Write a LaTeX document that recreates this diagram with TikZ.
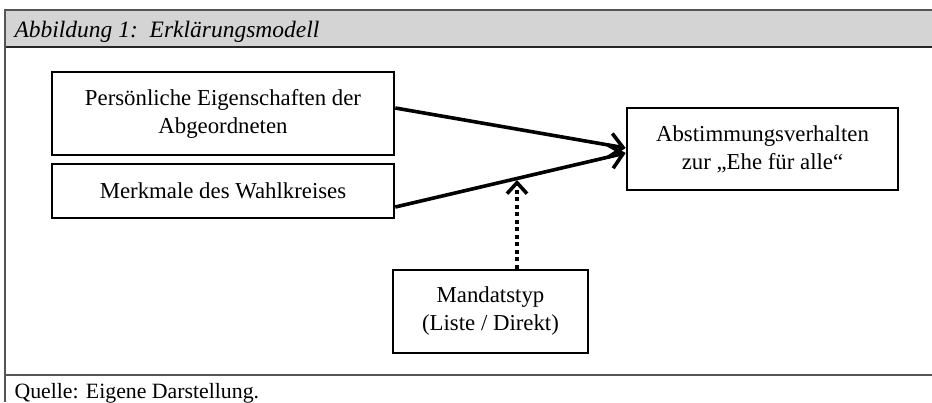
\documentclass[tikz,border=0pt]{standalone}
\usepackage{fontspec}
\setmainfont{Liberation Serif}
\usetikzlibrary{arrows.meta}
\definecolor{hdrfill}{RGB}{212,212,212}
\definecolor{hdrline}{RGB}{85,85,85}
\tikzset{
  box/.style={draw=black, line width=2.6pt, inner sep=0pt, align=center, font=\fontsize{22.8}{28}\selectfont},
  arr/.style={line width=3.6pt, -{Straight Barb[length=13pt,width=24pt,line width=3.6pt]}},
  darr/.style={line width=3.6pt, dash pattern=on 4pt off 3.5pt, -{Straight Barb[length=11pt,width=20pt,line width=3.6pt]}}
}
\begin{document}
\begin{tikzpicture}[x=1pt,y=-1pt]
\useasboundingbox (0,0) rectangle (932,402);
% header band
\fill[hdrfill] (5,9) rectangle (932,47);
\draw[hdrline, line width=2pt] (5,9.5) -- (932,9.5);
\draw[black!85, line width=2pt] (5,47) -- (932,47);
\draw[hdrline, line width=1.5pt] (5,9) -- (5,402);
\draw[hdrline, line width=2.2pt] (5,375) -- (932,375);
\node[anchor=base west, font=\fontsize{23.5}{26}\selectfont\itshape] (title) at (11,37) {Abbildung 1:\, Erklärungsmodell};
\node[anchor=base west, font=\fontsize{21.8}{24}\selectfont] (src) at (11,398) {Quelle: Eigene Darstellung.};
% boxes
\node[box, minimum width=342pt, minimum height=83pt] (p) at (223,113.5) {Persönliche Eigenschaften der\\Abgeordneten};
\node[box, minimum width=342pt, minimum height=54pt] (m) at (223,191) {Merkmale des Wahlkreises};
\node[box, minimum width=271pt, minimum height=82pt] (a) at (762.5,149) {Abstimmungsverhalten\\zur „Ehe für alle“};
\node[box, minimum width=195pt, minimum height=83pt] (d) at (490.5,311.5) {Mandatstyp\\(Liste / Direkt)};
% connectors
\coordinate (pe) at (p.east |- 0,108);
\coordinate (me) at (m.east |- 0,207);
\coordinate (at) at (a.west |- 0,148);
\coordinate (ab) at (a.west |- 0,153);
\coordinate (mid) at (517,180);
\draw[arr] (pe) -- (at);
\draw[arr] (me) -- (ab);
\draw[darr] (d.north -| mid) -- (mid);
\end{tikzpicture}
\end{document}
